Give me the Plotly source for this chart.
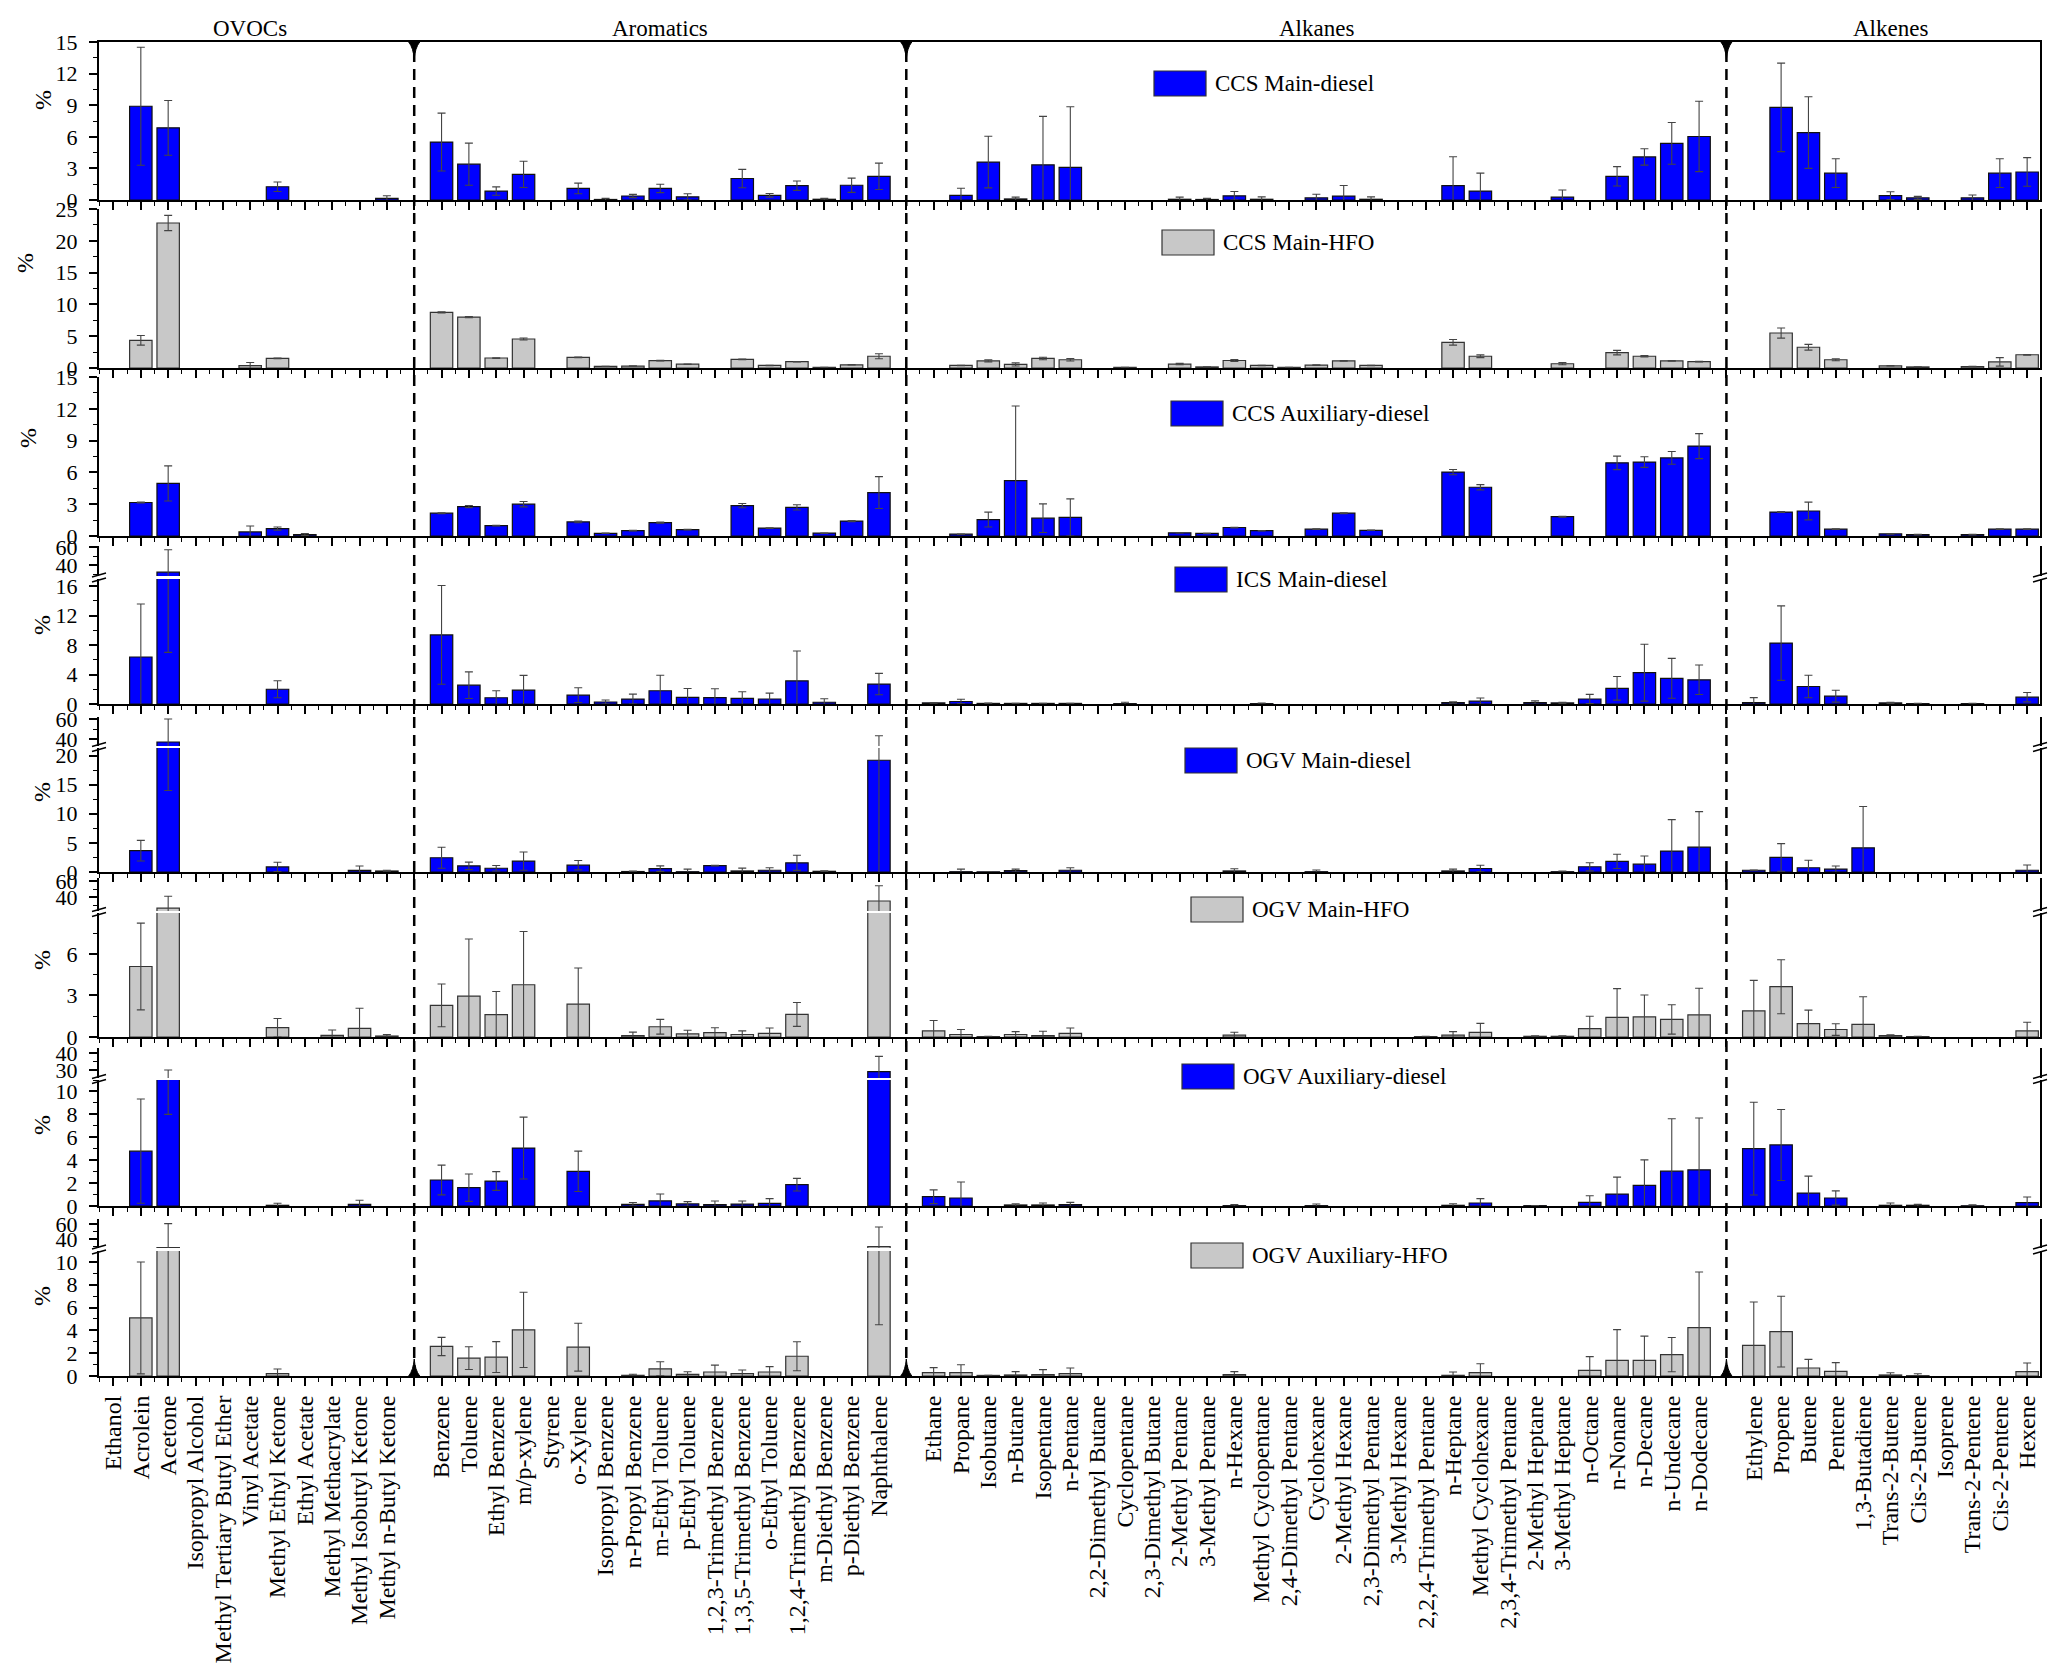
import plotly.graph_objects as go

# compound names, one list per group
ovocs = ["Ethanol", "Acrolein", "Acetone", "Isopropyl Alcohol", "Methyl Tertiary Butyl Ether",
         "Vinyl Acetate", "Methyl Ethyl Ketone", "Ethyl Acetate", "Methyl Methacrylate",
         "Methyl Isobutyl Ketone", "Methyl n-Butyl Ketone"]
aromatics = ["Benzene", "Toluene", "Ethyl Benzene", "m/p-xylene", "Styrene", "o-Xylene",
             "Isopropyl Benzene", "n-Propyl Benzene", "m-Ethyl Toluene", "p-Ethyl Toluene",
             "1,2,3-Trimethyl Benzene", "1,3,5-Trimethyl Benzene", "o-Ethyl Toluene",
             "1,2,4-Trimethyl Benzene", "m-Diethyl Benzene", "p-Diethyl Benzene", "Naphthalene"]
alkanes = ["Ethane", "Propane", "Isobutane", "n-Butane", "Isopentane", "n-Pentane",
           "2,2-Dimethyl Butane", "Cyclopentane", "2,3-Dimethyl Butane", "2-Methyl Pentane",
           "3-Methyl Pentane", "n-Hexane", "Methyl Cyclopentane", "2,4-Dimethyl Pentane",
           "Cyclohexane", "2-Methyl Hexane", "2,3-Dimethyl Pentane", "3-Methyl Hexane",
           "2,2,4-Trimethyl Pentane", "n-Heptane", "Methyl Cyclohexane", "2,3,4-Trimethyl Pentane",
           "2-Methyl Heptane", "3-Methyl Heptane", "n-Octane", "n-Nonane", "n-Decane",
           "n-Undecane", "n-Dodecane"]
alkenes = ["Ethylene", "Propene", "Butene", "Pentene", "1,3-Butadiene", "Trans-2-Butene",
           "Cis-2-Butene", "Isoprene", "Trans-2-Pentene", "Cis-2-Pentene", "Hexene"]

# mean % and sd, order: OVOCs / aromatics / alkanes / alkenes
ccs_main_diesel = [
    0, 8.9, 6.85, 0, 0, 0, 1.26, 0, 0, 0, 0.16,
    5.5, 3.4, 0.85, 2.43, 0, 1.1, 0.05, 0.38, 1.1, 0.3, 0, 2.04, 0.44, 1.36, 0.07, 1.4, 2.25,
    0, 0.44, 3.6, 0.1, 3.34, 3.1, 0, 0, 0, 0.07, 0.05, 0.4, 0.07, 0, 0.2, 0.37, 0.07, 0, 0,
    1.36, 0.85, 0, 0, 0.27, 0, 2.25, 4.09, 5.38, 6.03,
    0, 8.79, 6.4, 2.55, 0, 0.41, 0.2, 0, 0.2, 2.55, 2.66]
ccs_main_diesel_sd = [
    0, 5.6, 2.6, 0, 0, 0, 0.45, 0, 0, 0, 0.25,
    2.75, 2.0, 0.4, 1.25, 0, 0.5, 0.1, 0.15, 0.4, 0.3, 0, 0.87, 0.17, 0.45, 0.08, 0.68, 1.25,
    0, 0.68, 2.45, 0.17, 4.6, 5.75, 0, 0, 0, 0.2, 0.1, 0.4, 0.23, 0, 0.35, 1.0, 0.23, 0, 0,
    2.75, 1.7, 0, 0, 0.68, 0, 0.92, 0.78, 1.98, 3.34,
    0, 4.2, 3.4, 1.36, 0, 0.37, 0.14, 0, 0.28, 1.36, 1.36]

ccs_main_hfo = [
    0, 4.35, 22.8, 0, 0, 0.37, 1.52, 0, 0, 0, 0,
    8.75, 8.0, 1.57, 4.56, 0, 1.68, 0.26, 0.31, 1.15, 0.6, 0, 1.35, 0.4, 1.0, 0.1, 0.5, 1.85,
    0, 0.4, 1.12, 0.56, 1.5, 1.3, 0, 0.1, 0, 0.62, 0.17, 1.18, 0.4, 0.1, 0.45, 1.12, 0.4, 0, 0,
    4.04, 1.85, 0, 0, 0.67, 0, 2.42, 1.85, 1.12, 1.0,
    0, 5.5, 3.26, 1.3, 0, 0.34, 0.17, 0, 0.22, 0.96, 2.08]
ccs_main_hfo_sd = [
    0, 0.75, 1.2, 0, 0, 0.5, 0.05, 0, 0, 0, 0,
    0.1, 0.1, 0.05, 0.15, 0, 0.05, 0.02, 0.02, 0.05, 0.03, 0, 0.06, 0.03, 0.03, 0.02, 0.03, 0.4,
    0, 0.03, 0.15, 0.25, 0.2, 0.2, 0, 0.02, 0, 0.1, 0.02, 0.15, 0.03, 0.02, 0.05, 0.05, 0.03, 0, 0,
    0.45, 0.22, 0, 0, 0.17, 0, 0.35, 0.1, 0.05, 0.05,
    0, 0.8, 0.45, 0.16, 0, 0.03, 0.02, 0, 0.03, 0.67, 0.05]

ccs_aux_diesel = [
    0, 3.16, 4.96, 0, 0, 0.38, 0.7, 0.13, 0, 0, 0,
    2.15, 2.78, 0.98, 3.0, 0, 1.33, 0.25, 0.5, 1.26, 0.6, 0, 2.86, 0.74, 2.7, 0.27, 1.41, 4.1,
    0, 0.17, 1.55, 5.22, 1.68, 1.75, 0, 0, 0, 0.3, 0.24, 0.8, 0.5, 0, 0.64, 2.15, 0.54, 0, 0,
    6.03, 4.6, 0, 0, 1.82, 0, 6.9, 6.97, 7.37, 8.48,
    0, 2.26, 2.36, 0.64, 0, 0.2, 0.13, 0, 0.13, 0.64, 0.64]
ccs_aux_diesel_sd = [
    0, 0.05, 1.66, 0, 0, 0.57, 0.15, 0.09, 0, 0, 0,
    0.05, 0.1, 0.03, 0.25, 0, 0.08, 0.02, 0.03, 0.05, 0.03, 0, 0.2, 0.03, 0.25, 0.02, 0.05, 1.5,
    0, 0.02, 0.7, 7.05, 1.35, 1.75, 0, 0, 0, 0.02, 0.02, 0.03, 0.02, 0, 0.03, 0.05, 0.02, 0, 0,
    0.25, 0.25, 0, 0, 0.05, 0, 0.64, 0.5, 0.6, 1.18,
    0, 0.05, 0.84, 0.03, 0, 0.02, 0.02, 0, 0.02, 0.03, 0.03]

ics_main_diesel = [
    0, 6.37, 32, 0, 0, 0, 2.0, 0, 0, 0, 0,
    9.37, 2.55, 0.85, 1.88, 0, 1.2, 0.27, 0.67, 1.8, 0.9, 0.87, 0.77, 0.68, 3.14, 0.24, 0, 2.7,
    0.15, 0.34, 0.08, 0.08, 0.08, 0.08, 0, 0.05, 0, 0, 0, 0, 0.05, 0, 0, 0, 0, 0, 0,
    0.2, 0.39, 0, 0.2, 0.15, 0.68, 2.13, 4.25, 3.48, 3.28,
    0.2, 8.26, 2.37, 1.06, 0, 0.15, 0.05, 0, 0.05, 0, 0.92]
ics_main_diesel_sd = [
    0, 7.2, 25, 0, 0, 0, 1.15, 0, 0, 0, 0,
    6.7, 1.8, 0.95, 2.0, 0, 1.0, 0.27, 0.67, 2.1, 1.2, 1.2, 0.9, 0.8, 4.05, 0.48, 0, 1.45,
    0.05, 0.3, 0.05, 0.03, 0.03, 0.03, 0, 0.19, 0, 0, 0, 0, 0.08, 0, 0, 0, 0, 0, 0,
    0.1, 0.43, 0, 0.23, 0.09, 0.63, 1.6, 3.86, 2.7, 2.0,
    0.67, 5.05, 1.53, 0.8, 0, 0.09, 0.03, 0, 0.03, 0, 0.63]

ogv_main_diesel = [
    0, 3.67, 37, 0, 0, 0, 0.87, 0, 0, 0.29, 0.17,
    2.45, 1.05, 0.64, 1.87, 0, 1.17, 0, 0.08, 0.58, 0.05, 1.1, 0.18, 0.3, 1.58, 0.12, 0, 19.2,
    0, 0.05, 0.03, 0.25, 0, 0.3, 0, 0, 0, 0, 0, 0.18, 0, 0, 0.05, 0, 0, 0, 0,
    0.18, 0.6, 0, 0, 0.05, 0.9, 1.83, 1.34, 3.6, 4.27,
    0.3, 2.5, 0.73, 0.49, 4.15, 0, 0, 0, 0, 0, 0.3]
ogv_main_diesel_sd = [
    0, 1.77, 23, 0, 0, 0, 0.8, 0, 0, 0.75, 0.13,
    1.8, 0.65, 0.47, 1.57, 0, 0.8, 0, 0.1, 0.47, 0.45, 0.05, 0.49, 0.43, 1.3, 0.1, 0, 24,
    0, 0.45, 0.03, 0.25, 0, 0.43, 0, 0, 0, 0, 0, 0.37, 0, 0, 0.3, 0, 0, 0, 0,
    0.32, 0.55, 0, 0, 0.12, 0.7, 1.22, 1.4, 5.4, 6.1,
    0.05, 2.38, 1.28, 0.55, 7.1, 0, 0, 0, 0, 0, 0.9]

ogv_main_hfo = [
    0, 5.09, 26, 0, 0, 0, 0.67, 0, 0.12, 0.62, 0.07,
    2.28, 2.95, 1.61, 3.77, 0, 2.38, 0, 0.1, 0.74, 0.22, 0.31, 0.18, 0.26, 1.63, 0, 0, 35,
    0.44, 0.18, 0.03, 0.18, 0.1, 0.26, 0, 0, 0, 0, 0, 0.13, 0, 0, 0, 0, 0, 0, 0.03,
    0.13, 0.34, 0, 0.05, 0.05, 0.6, 1.42, 1.45, 1.27, 1.6,
    1.89, 3.63, 0.96, 0.54, 0.91, 0.1, 0.03, 0, 0, 0, 0.44]
ogv_main_hfo_sd = [
    0, 3.13, 15, 0, 0, 0, 0.67, 0, 0.38, 1.46, 0.1,
    1.54, 4.12, 1.67, 3.85, 0, 2.6, 0, 0.25, 0.53, 0.27, 0.36, 0.26, 0.39, 0.86, 0, 0, 19,
    0.75, 0.36, 0.02, 0.21, 0.31, 0.39, 0, 0, 0, 0, 0, 0.21, 0, 0, 0, 0, 0, 0, 0.02,
    0.26, 0.64, 0, 0.03, 0.03, 0.9, 2.07, 1.58, 1.06, 1.92,
    2.2, 1.95, 0.98, 0.42, 2.0, 0.05, 0.02, 0, 0, 0, 0.62]

ogv_aux_diesel = [
    0, 4.79, 19, 0, 0, 0, 0.06, 0, 0, 0.15, 0,
    2.27, 1.6, 2.18, 5.06, 0, 3.03, 0, 0.15, 0.45, 0.18, 0.12, 0.17, 0.23, 1.86, 0, 0, 29,
    0.81, 0.7, 0, 0.09, 0.09, 0.12, 0, 0, 0, 0, 0, 0.03, 0, 0, 0.03, 0, 0, 0, 0,
    0.06, 0.26, 0, 0.03, 0, 0.32, 1.04, 1.8, 3.04, 3.16,
    5.01, 5.33, 1.13, 0.7, 0, 0.06, 0.06, 0, 0.02, 0, 0.29]
ogv_aux_diesel_sd = [
    0, 4.55, 11, 0, 0, 0, 0.18, 0, 0, 0.35, 0,
    1.3, 1.2, 0.82, 2.7, 0, 1.76, 0, 0.15, 0.6, 0.2, 0.31, 0.26, 0.41, 0.55, 0, 0, 9,
    0.6, 1.4, 0, 0.11, 0.17, 0.2, 0, 0, 0, 0, 0, 0.09, 0, 0, 0.14, 0, 0, 0, 0,
    0.14, 0.38, 0, 0.02, 0, 0.58, 1.48, 2.23, 4.58, 4.52,
    4.05, 3.1, 1.48, 0.62, 0, 0.2, 0.08, 0, 0.08, 0, 0.49]

ogv_aux_hfo = [
    0, 5.09, 29, 0, 0, 0, 0.21, 0, 0, 0, 0,
    2.59, 1.57, 1.66, 4.04, 0, 2.53, 0, 0.06, 0.63, 0.14, 0.35, 0.2, 0.35, 1.73, 0, 0, 30.5,
    0.29, 0.29, 0.05, 0.09, 0.12, 0.2, 0, 0, 0, 0, 0, 0.12, 0, 0, 0, 0, 0, 0, 0,
    0.06, 0.29, 0, 0, 0, 0.5, 1.37, 1.37, 1.87, 4.24,
    2.69, 3.89, 0.7, 0.41, 0, 0.09, 0.03, 0, 0, 0, 0.38]
ogv_aux_hfo_sd = [
    0, 4.9, 32, 0, 0, 0, 0.4, 0, 0, 0, 0,
    0.8, 1.0, 1.35, 3.3, 0, 2.1, 0, 0.09, 0.62, 0.23, 0.6, 0.33, 0.47, 1.27, 0, 0, 26,
    0.44, 0.7, 0.02, 0.29, 0.44, 0.5, 0, 0, 0, 0, 0, 0.26, 0, 0, 0, 0, 0, 0, 0,
    0.29, 0.79, 0, 0, 0, 1.2, 2.7, 2.13, 1.5, 4.88,
    3.8, 3.1, 0.76, 0.76, 0, 0.2, 0.17, 0, 0, 0, 0.76]

BLUE, GREY = "#0000FF", "#C8C8C8"
FONT = "Liberation Serif, Times New Roman, serif"

# page geometry in pixels
W, H = 2067, 1674
ML, MR, MT, MB = 99, 27, 41, 298
PW, PH = W - ML - MR, H - MT - MB


def xp(px):
    return (px - ML) / PW


def yp(px):
    return (H - MB - px) / PH


# slot positions: one empty slot between groups (where the dashed line goes)
groups = [("OVOCs", ovocs), ("Aromatics", aromatics), ("Alkanes", alkanes), ("Alkenes", alkenes)]
slots, centres, dividers = [], [], []
pos = 0
for gname, names in groups:
    first = pos
    for n in names:
        slots.append(pos)
        pos += 1
    centres.append((gname, (first + pos - 1) / 2))
    dividers.append(pos)
    pos += 1
dividers = dividers[:-1]
n_slots = pos - 1
all_names = ovocs + aromatics + alkanes + alkenes
ticktext = [""] * n_slots
for s, n in zip(slots, all_names):
    ticktext[s] = n
XR = [-0.53, n_slots - 1 + 0.47]

# name, values, sd, colour, lower segment (top px, bottom px, range, dtick, minor),
# upper segment (top px, bottom px, range, tickvals, minor) or None, "%" pos, key box pos
panels = [
    ("CCS Main-diesel", ccs_main_diesel, ccs_main_diesel_sd, BLUE,
     (42, 200, [0, 15], 3, 1.5), None, (43, 100), (1154, 71)),
    ("CCS Main-HFO", ccs_main_hfo, ccs_main_hfo_sd, GREY,
     (209, 368, [0, 25], 5, 2.5), None, (25, 263), (1162, 230)),
    ("CCS Auxiliary-diesel", ccs_aux_diesel, ccs_aux_diesel_sd, BLUE,
     (377, 536, [0, 15], 3, 1.5), None, (28, 438), (1171, 401)),
    ("ICS Main-diesel", ics_main_diesel, ics_main_diesel_sd, BLUE,
     (579, 704, [0, 16.95], 4, 2), (546, 576, [27.8, 61.1], [40, 60], 10), (42, 625), (1175, 567)),
    ("OGV Main-diesel", ogv_main_diesel, ogv_main_diesel_sd, BLUE,
     (748, 872, [0, 21.3], 5, 2.5), (717, 746, [33, 62], [40, 60], 10), (42, 792), (1185, 748)),
    ("OGV Main-HFO", ogv_main_hfo, ogv_main_hfo_sd, GREY,
     (913, 1037, [0, 8.95], 3, 1.5), (878, 911, [22.5, 63.75], [40, 60], 10), (42, 960), (1191, 897)),
    ("OGV Auxiliary-diesel", ogv_aux_diesel, ogv_aux_diesel_sd, BLUE,
     (1080, 1206, [0, 11.0], 2, 1), (1048, 1078, [25.3, 42.9], [30, 40], 5), (42, 1125), (1182, 1064)),
    ("OGV Auxiliary-HFO", ogv_aux_hfo, ogv_aux_hfo_sd, GREY,
     (1251, 1376, [0, 10.96], 2, 1), (1219, 1248, [28.6, 67.1], [40, 60], 10), (42, 1296), (1191, 1243)),
]

fig = go.Figure()
layout = {}
shapes, annots = [], []
k = 0
for pi, (name, vals, sds, colour, low, up, pct, leg) in enumerate(panels):
    assert len(vals) == len(all_names) and len(sds) == len(all_names)
    keep = [(s, v, e) for s, v, e in zip(slots, vals, sds) if v > 0 or e > 0]
    xs = [a[0] for a in keep]
    ys = [a[1] for a in keep]
    es = [a[2] for a in keep]
    edge = "#111111" if colour == BLUE else "#333333"
    segs = [("low", low)] + ([("up", up)] if up else [])
    for kind, seg in segs:
        k += 1
        xa = "x" if k == 1 else f"x{k}"
        ya = "y" if k == 1 else f"y{k}"
        fig.add_trace(go.Bar(
            x=xs, y=ys, width=0.82, name=name, showlegend=False,
            marker=dict(color=colour, line=dict(color=edge, width=1.2)),
            error_y=dict(type="data", array=es, visible=True, color="#444444",
                         thickness=1.1, width=4),
            xaxis=xa, yaxis=ya, hoverinfo="skip"))
        top, bot, rng = seg[0], seg[1], seg[2]
        xkey = "xaxis" if k == 1 else f"xaxis{k}"
        ykey = "yaxis" if k == 1 else f"yaxis{k}"
        xaxis = dict(domain=[0, 1], range=XR, anchor=ya, showgrid=False, zeroline=False)
        if kind == "low":
            xaxis.update(
                tickmode="array", tickvals=list(range(n_slots)), ticktext=ticktext,
                showticklabels=(pi == len(panels) - 1), tickangle=-90,
                ticks="outside", ticklen=8, tickwidth=1.5, tickcolor="black",
                minor=dict(tickmode="linear", tick0=0.5, dtick=1, ticks="outside",
                           ticklen=4, tickwidth=1.2, tickcolor="black"),
                showline=True, linewidth=2, linecolor="black", mirror=(k == 1),
                tickfont=dict(family=FONT, size=24, color="black"))
        else:
            xaxis.update(visible=False)
        layout[xkey] = xaxis
        yaxis = dict(domain=[max(0, yp(bot)), min(1, yp(top))], range=rng, anchor=xa,
                     showgrid=False, zeroline=False, showline=True, linewidth=2,
                     linecolor="black", mirror=True, ticks="outside", ticklen=8,
                     tickwidth=1.5, tickcolor="black", ticklabelstandoff=7,
                     tickfont=dict(family=FONT, size=22, color="black"))
        if kind == "low":
            yaxis.update(tickmode="linear", tick0=0, dtick=seg[3],
                         minor=dict(tickmode="linear", tick0=0, dtick=seg[4], ticks="outside",
                                    ticklen=4, tickwidth=1.2, tickcolor="black"))
        else:
            yaxis.update(tickmode="array", tickvals=seg[3],
                         minor=dict(tickmode="linear", tick0=0, dtick=seg[4], ticks="outside",
                                    ticklen=4, tickwidth=1.2, tickcolor="black"))
        layout[ykey] = yaxis

    # axis break marks
    if up:
        yc = (up[1] + low[0]) / 2
        for axpx in (ML, W - MR):
            for off in (-2.5, 2.5):
                shapes.append(dict(type="line", xref="paper", yref="paper",
                                   x0=xp(axpx - 7), y0=yp(yc + off + 2),
                                   x1=xp(axpx + 7), y1=yp(yc + off - 2),
                                   line=dict(color="black", width=1.5)))

    # "%" label
    annots.append(dict(text="%", x=xp(pct[0]), y=yp(pct[1]), xref="paper", yref="paper",
                       showarrow=False, textangle=-90, xanchor="center", yanchor="middle",
                       font=dict(family=FONT, size=24, color="black")))
    # per-panel key
    bx, by = leg
    shapes.append(dict(type="rect", xref="paper", yref="paper",
                       x0=xp(bx), x1=xp(bx + 52), y0=yp(by + 25), y1=yp(by),
                       fillcolor=colour, line=dict(color="#333333", width=1.2)))
    annots.append(dict(text=name, x=xp(bx + 59), y=yp(by + 12.5), xref="paper", yref="paper",
                       xanchor="left", yanchor="middle", showarrow=False,
                       font=dict(family=FONT, size=23, color="black")))

# dashed group dividers with arrow heads
top_px, bot_px = 42, H - MB
for d in dividers:
    shapes.append(dict(type="line", xref="x", yref="paper", x0=d, x1=d,
                       y0=yp(bot_px), y1=yp(top_px), layer="above",
                       line=dict(color="black", width=2.5, dash="11px,7px")))
    xc = (d - XR[0]) / (XR[1] - XR[0])
    hw = 5.5 / PW
    for base, tip in ((top_px, top_px + 17), (bot_px, bot_px - 17)):
        yb, yt = yp(base), yp(tip)
        ym = yp(base + (tip - base) * 0.35)
        path = (f"M {xc - hw},{yb} L {xc + hw},{yb} Q {xc + hw * 0.15},{ym} {xc},{yt} "
                f"Q {xc - hw * 0.15},{ym} {xc - hw},{yb} Z")
        shapes.append(dict(type="path", xref="paper", yref="paper", path=path,
                           fillcolor="black", line=dict(color="black", width=1)))

# group titles
for gname, c in centres:
    annots.append(dict(text=gname, x=c, xref="x", y=yp(28), yref="paper", showarrow=False,
                       yanchor="middle", font=dict(family=FONT, size=23, color="black")))

fig.update_layout(
    width=W, height=H,
    margin=dict(l=ML, r=MR, t=MT, b=MB, pad=0),
    paper_bgcolor="white", plot_bgcolor="white",
    font=dict(family=FONT, color="black"),
    shapes=shapes, annotations=annots, showlegend=False, hovermode=False,
    **layout)
fig.write_html("out.html", config={"displayModeBar": False},
               post_script="document.body.style.margin='0px';")
